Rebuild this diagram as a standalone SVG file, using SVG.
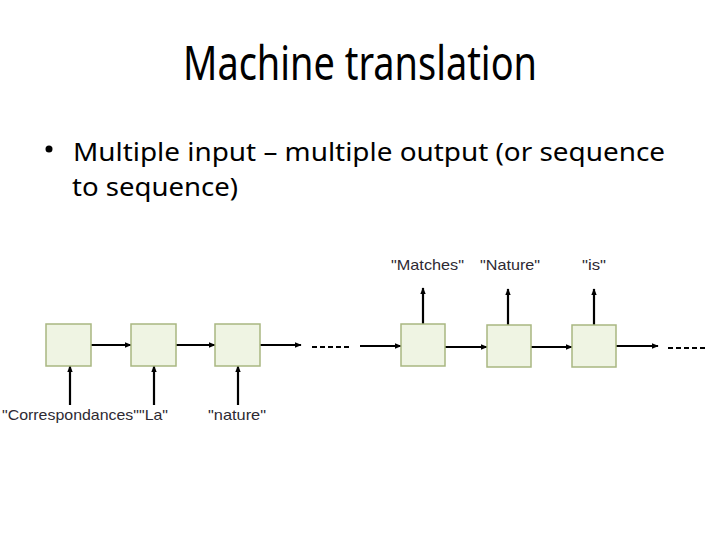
<svg xmlns="http://www.w3.org/2000/svg" width="720" height="540" viewBox="0 0 720 540">
  <style>
    .title { font-family: "Noto Sans", "Open Sans", sans-serif; font-size: 48px; fill: #000; }
    .bullet { font-family: "Noto Sans", "Open Sans", sans-serif; font-size: 25.5px; fill: #000; }
    .lbl { font-family: "Liberation Sans", Arial, sans-serif; font-size: 15px; fill: #2e2a33; }
    .box { fill: #eff4e3; stroke: #a9b781; stroke-width: 1.5; }
    .arr { stroke: #000; stroke-width: 2.2; fill: none; marker-end: url(#ah); }
    .dash { stroke: #000; stroke-width: 2; stroke-dasharray: 5 3; fill: none; }
  </style>
  <defs>
    <marker id="ah" viewBox="0 0 10 10" refX="9" refY="5" markerWidth="3.2" markerHeight="3.2" orient="auto" markerUnits="strokeWidth">
      <path d="M0,1 L10,5 L0,9 Z" fill="#000"/>
    </marker>
  </defs>
  <rect width="720" height="540" fill="#fff"/>
  <text class="title" x="360" y="80" text-anchor="middle" textLength="354" lengthAdjust="spacingAndGlyphs">Machine translation</text>
  <circle cx="49" cy="149" r="3.5" fill="#000"/>
  <text class="bullet" x="73" y="161" textLength="592" lengthAdjust="spacingAndGlyphs">Multiple input – multiple output (or sequence</text>
  <text class="bullet" x="72" y="196" textLength="166" lengthAdjust="spacingAndGlyphs">to sequence)</text>

  <g id="connectors">
    <line class="arr" x1="91" y1="345" x2="131" y2="345"/>
    <line class="arr" x1="176" y1="345" x2="215" y2="345"/>
    <line class="arr" x1="260" y1="345" x2="301" y2="345"/>
    <line class="dash" x1="312" y1="347" x2="352" y2="347"/>
    <line class="arr" x1="360" y1="346" x2="401" y2="346"/>
    <line class="arr" x1="445" y1="347" x2="487" y2="347"/>
    <line class="arr" x1="531" y1="347" x2="572" y2="347"/>
    <line class="arr" x1="616" y1="346" x2="658" y2="346"/>
    <line class="dash" x1="668" y1="348" x2="708" y2="348"/>
    <line class="arr" x1="70" y1="405" x2="70" y2="366"/>
    <line class="arr" x1="154" y1="405" x2="154" y2="366"/>
    <line class="arr" x1="238" y1="405" x2="238" y2="366"/>
    <line class="arr" x1="423" y1="324" x2="423" y2="288"/>
    <line class="arr" x1="508" y1="325" x2="508" y2="289"/>
    <line class="arr" x1="594" y1="325" x2="594" y2="289"/>
  </g>

  <g id="n1"><rect class="box" x="46" y="324" width="45" height="42"/></g>
  <g id="n2"><rect class="box" x="131" y="324" width="45" height="42"/></g>
  <g id="n3"><rect class="box" x="215" y="324" width="45" height="42"/></g>
  <g id="n4"><rect class="box" x="401" y="324" width="44" height="42"/></g>
  <g id="n5"><rect class="box" x="487" y="325" width="44" height="42"/></g>
  <g id="n6"><rect class="box" x="572" y="325" width="44" height="42"/></g>

  <g id="labels">
    <text class="lbl" x="2" y="420" textLength="166" lengthAdjust="spacingAndGlyphs">"Correspondances""La"</text>
    <text class="lbl" x="208" y="420" textLength="58" lengthAdjust="spacingAndGlyphs">"nature"</text>
    <text class="lbl" x="391" y="270" textLength="73" lengthAdjust="spacingAndGlyphs">"Matches"</text>
    <text class="lbl" x="480" y="270" textLength="60" lengthAdjust="spacingAndGlyphs">"Nature"</text>
    <text class="lbl" x="582" y="270" textLength="24" lengthAdjust="spacingAndGlyphs">"is"</text>
  </g>
</svg>
